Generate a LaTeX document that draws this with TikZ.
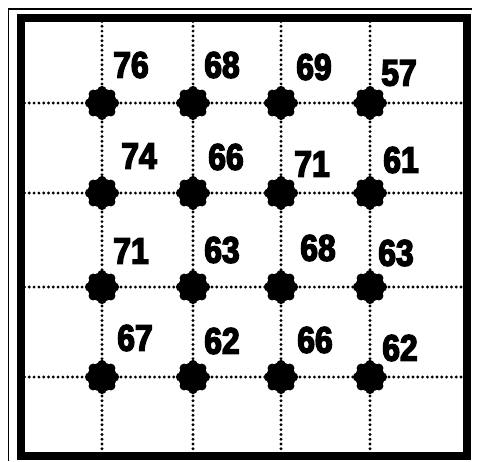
\documentclass[tikz,border=0pt]{standalone}
\usepackage{fontspec}
\newfontfamily\numfont[FakeStretch=0.86,FakeBold=4,BoldFeatures={FakeBold=4}]{Liberation Sans}
\begin{document}
\begin{tikzpicture}[x=1pt,y=-1pt,
  gridline/.style={line width=3.2pt, line cap=round, dash pattern=on 0pt off 4.8pt},
  blob/.style={circle, fill=black, minimum size=28pt, inner sep=0pt},
  val/.style={font=\numfont\bfseries\fontsize{37}{37}\selectfont, inner sep=0pt, anchor=center},
  thinframe/.style={line width=1.8pt},
  thickframe/.style={line width=8pt}
]
\useasboundingbox (0,0) rectangle (478,461);
\fill[white] (0,0) rectangle (478,461);
% frame
\draw[thinframe] (8.5,461) -- (8.5,9) -- (472,9);
\draw[thickframe] (20.5,17.5) rectangle (466.5,455.5);
% edge coordinates
\foreach \c/\x in {1/102,2/193,3/281,4/370}{
  \coordinate (top\c) at (\x,21.5);
  \coordinate (bot\c) at (\x,451.5);
}
\foreach \r/\y in {1/103,2/193,3/287,4/377}{
  \coordinate (lft\r) at (24.5,\y);
  \coordinate (rgt\r) at (462.5,\y);
}
% dots
\foreach \r/\y in {1/103,2/193,3/287,4/377}{
  \foreach \c/\x in {1/102,2/193,3/281,4/370}{
    \node[blob] (d\r\c) at (\x,\y) {};
  }
}
% grid lines
\foreach \c in {1,2,3,4}{
  \draw[gridline] (top\c) -- (d1\c) -- (d2\c) -- (d3\c) -- (d4\c) -- (bot\c);
}
\foreach \r in {1,2,3,4}{
  \draw[gridline] (lft\r) -- (d\r1) -- (d\r2) -- (d\r3) -- (d\r4) -- (rgt\r);
}
% redraw dots with bumps on top
\foreach \r in {1,2,3,4}{
  \foreach \c in {1,2,3,4}{
    \fill (d\r\c.center) circle (14.5);
    \foreach \k in {0,...,7}{
      \fill (d\r\c.center) ++(\k*45:12.5) circle (4.6);
    }
  }
}
% values
\node[val] (v11) at (131,65) {76};
\node[val] (v12) at (222,65) {68};
\node[val] (v13) at (314,67) {69};
\node[val] (v14) at (399,73) {57};
\node[val] (v21) at (139,156) {74};
\node[val] (v22) at (226,157) {66};
\node[val] (v23) at (312,164) {71};
\node[val] (v24) at (401,160) {61};
\node[val] (v31) at (131,251) {71};
\node[val] (v32) at (222,250) {63};
\node[val] (v33) at (318,248) {68};
\node[val] (v34) at (396,253) {63};
\node[val] (v41) at (135,338) {67};
\node[val] (v42) at (222,341) {62};
\node[val] (v43) at (315,340) {66};
\node[val] (v44) at (400,348) {62};
\end{tikzpicture}
\end{document}
